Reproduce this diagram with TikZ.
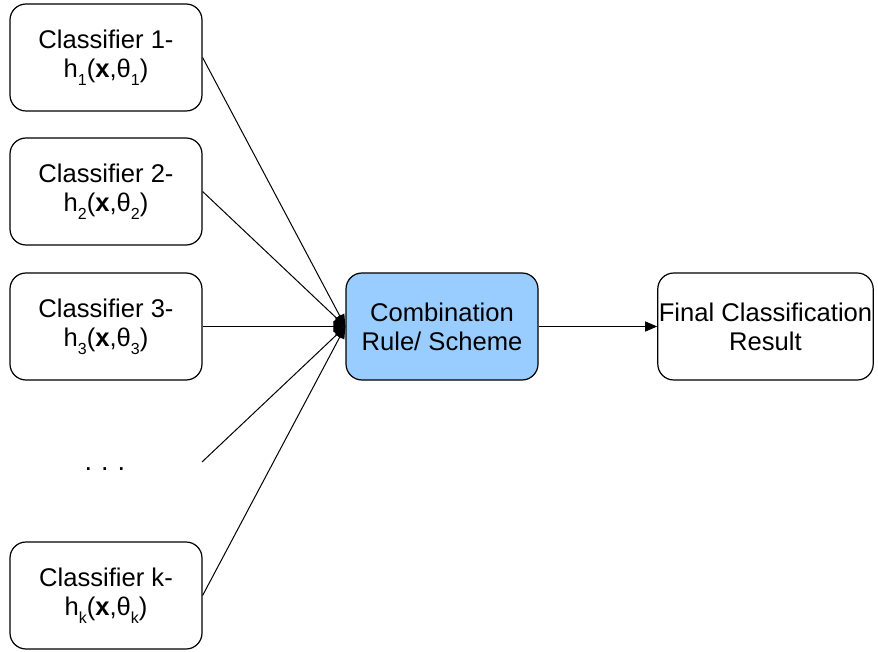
\documentclass[tikz,border=0pt]{standalone}
\usepackage{fontspec}
\setmainfont{Liberation Sans}
\usetikzlibrary{arrows.meta}
\definecolor{cmb_blue}{RGB}{153, 204, 255}
\newcommand{\lowsub}[1]{\raisebox{-4pt}{\fontsize{8}{8}\selectfont #1}}
\tikzstyle{wn}=[rectangle,rounded corners=8pt,fill=white,draw=black,
  line width=0.6pt,inner sep=0.5pt,minimum width=96pt,minimum height=53.5pt,
  align=center,font=\fontsize{12.8}{14.5}\selectfont]
\tikzstyle{bn}=[wn,fill=cmb_blue]
\tikzstyle{ar}=[-{Triangle[length=6pt,width=5pt]},line width=0.5pt]

\begin{document}
\begin{tikzpicture}[x=0.5pt,y=-0.5pt]
        \useasboundingbox (0,0) rectangle (878,652);
        \node[style=wn] (1) at (106,57.5) {Classifier 1-\\h\lowsub{1}(\textbf{x},θ\lowsub{1})};
        \node[style=wn] (2) at (106,191.5) {Classifier 2-\\h\lowsub{2}(\textbf{x},θ\lowsub{2})};
        \node[style=wn] (3) at (106,326.5) {Classifier 3-\\h\lowsub{3}(\textbf{x},θ\lowsub{3})};
        \node[font=\fontsize{13.5}{14.5}\selectfont] (4) at (105,469) {.\,\,.\,\,.};
        \coordinate (5) at (202,462);
        \node[style=wn] (6) at (106,595.5) {Classifier k-\\h\lowsub{k}(\textbf{x},θ\lowsub{k})};
        \node[style=bn] (7) at (442,326.5) {Combination\\Rule/ Scheme};
        \node[style=wn,minimum width=107.5pt] (8) at (765.5,326.5) {Final Classification\\Result};
        \draw[style=ar] (1.east) to (7.west);
        \draw[style=ar] (2.east) to (7.west);
        \draw[style=ar] (3.east) to (7.west);
        \draw[style=ar] (5) to (7.west);
        \draw[style=ar] (6.east) to (7.west);
        \draw[style=ar] (7) to (8);
    \end{tikzpicture}
\end{document}
